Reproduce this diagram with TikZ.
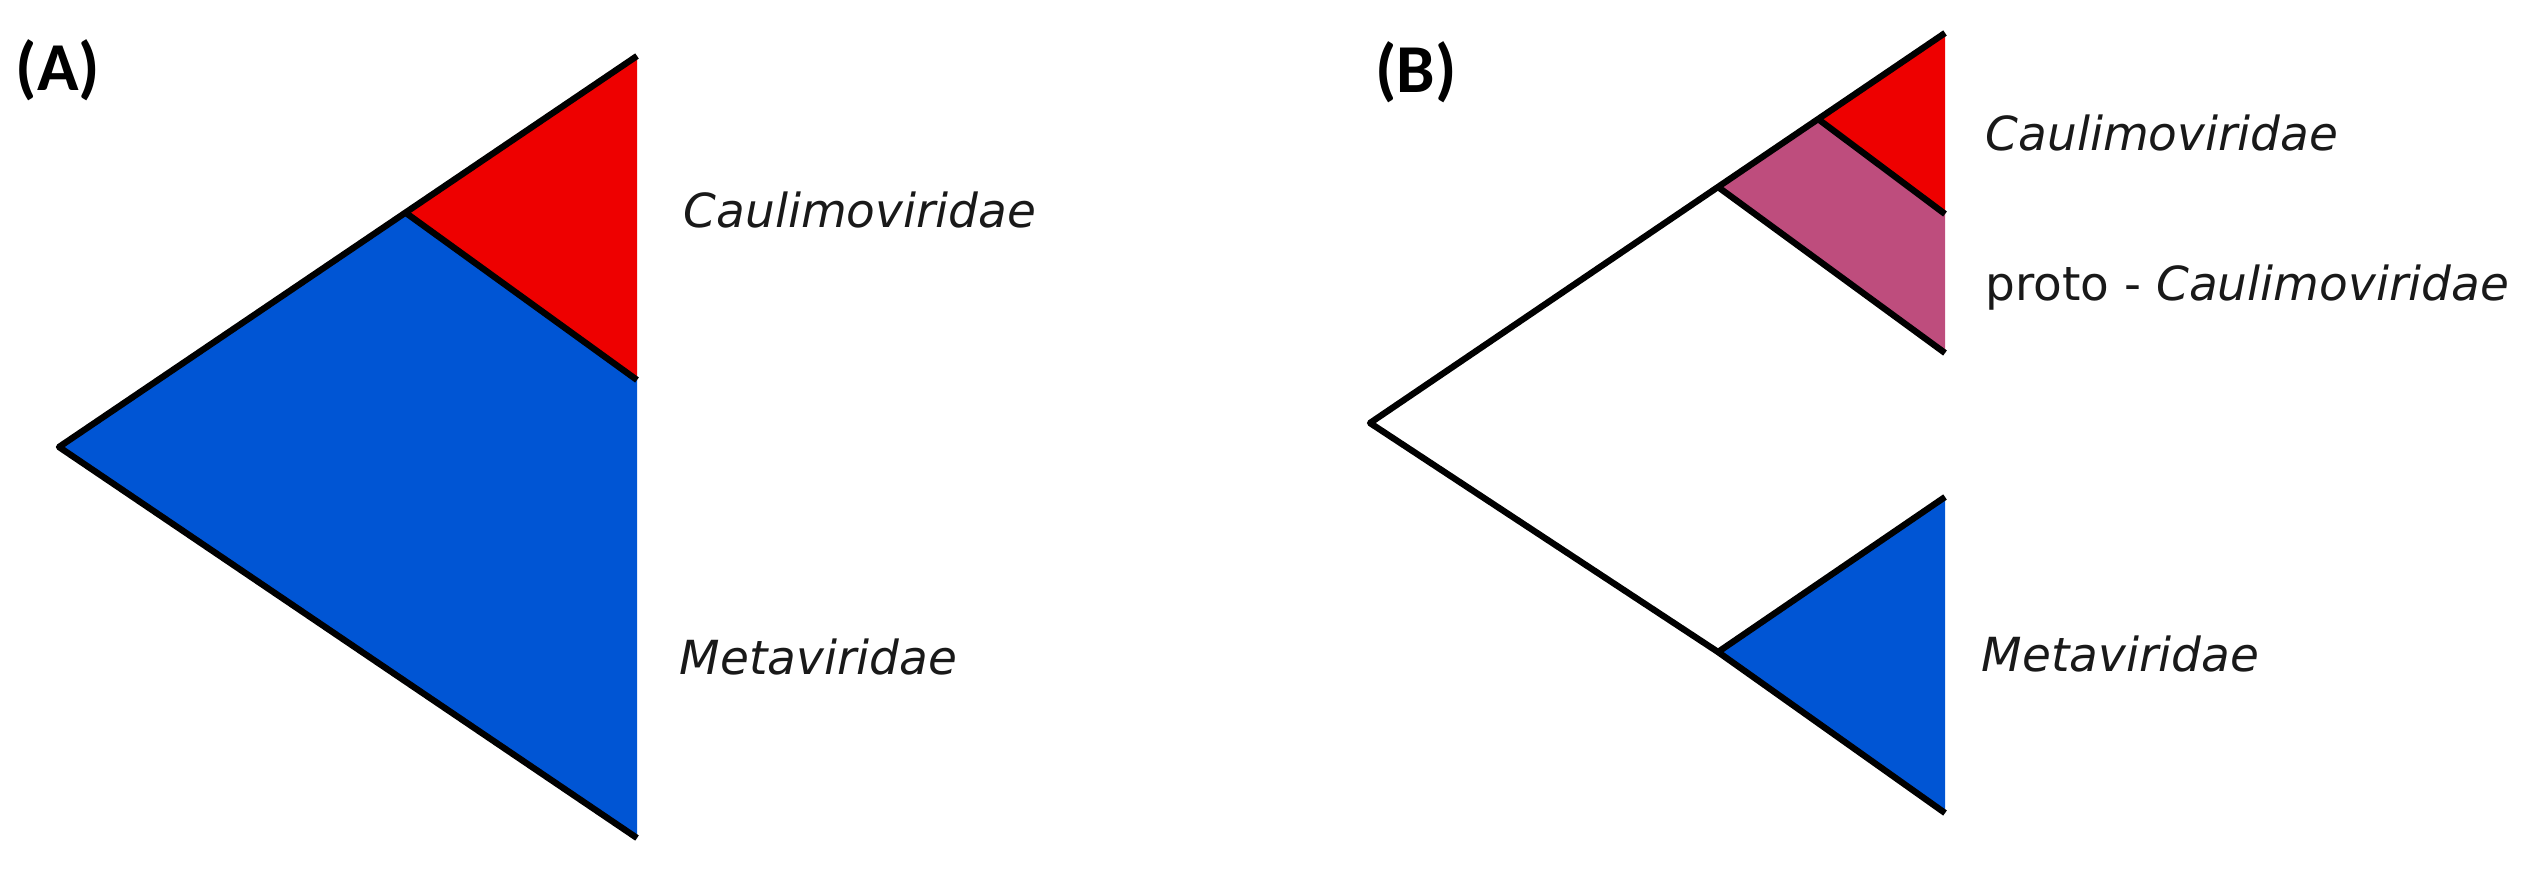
\documentclass[tikz,border=0pt]{standalone}
\usepackage{fontspec}
\setmainfont{DejaVu Sans}
\newfontfamily\labfont{Carlito}
\definecolor{cred}{RGB}{238,0,0}
\definecolor{cblue}{RGB}{0,85,212}
\definecolor{cpink}{RGB}{190,77,125}
\definecolor{ctext}{RGB}{25,25,25}
\begin{document}
\begin{tikzpicture}[x=0.01cm,y=-0.01cm,
  branch/.style={line width=1.8pt, draw=black, line join=round},
  taxon/.style={anchor=base west, inner sep=0pt, font=\fontsize{13.35pt}{15pt}\selectfont\itshape, text=ctext},
  panel/.style={inner sep=0pt, font=\fontsize{19.5pt}{22pt}\selectfont\labfont\bfseries}]
\useasboundingbox (0,0) rectangle (2534,873);

% ---------- Panel A ----------
\coordinate (Aapex) at (59,447);
\coordinate (Atop) at (637,56);
\coordinate (Abot) at (637,838);
\coordinate (Ajunc) at (406,213);
\coordinate (Ared) at (637,380);

\fill[cblue] (Aapex) -- (Ajunc) -- (Ared) -- (Abot) -- cycle;
\fill[cred] (Ajunc) -- (Atop) -- (Ared) -- cycle;
\draw[branch] (Atop) -- (Aapex) -- (Abot);
\draw[branch] (Ajunc) -- (Ared);

\node[panel] (labA) at (58,70) {(A)};
\node[taxon] (caulA) at (683,228) {Caulimoviridae};
\node[taxon] (metaA) at (679,674) {Metaviridae};

% ---------- Panel B ----------
\coordinate (Bapex) at (1370,423);
\coordinate (Btop) at (1945,33);
\coordinate (Bj1) at (1718,187);
\coordinate (Bj2) at (1818,119);
\coordinate (Bred) at (1945,214);
\coordinate (Bpink) at (1945,353);
\coordinate (Blow) at (1718,652);
\coordinate (Bbt) at (1945,497);
\coordinate (Bbb) at (1945,813);

\fill[cpink] (Bj1) -- (Bj2) -- (Bred) -- (Bpink) -- cycle;
\fill[cred] (Bj2) -- (Btop) -- (Bred) -- cycle;
\fill[cblue] (Blow) -- (Bbt) -- (Bbb) -- cycle;
\draw[branch] (Btop) -- (Bapex) -- (Blow);
\draw[branch] (Bj1) -- (Bpink);
\draw[branch] (Bj2) -- (Bred);
\draw[branch] (Bbt) -- (Blow) -- (Bbb);

\node[panel] (labB) at (1416,72) {(B)};
\node[taxon] (caulB) at (1985,151) {Caulimoviridae};
\node[taxon] (protoB) at (1985,300) {\upshape proto - \itshape Caulimoviridae};
\node[taxon] (metaB) at (1981,671) {Metaviridae};
\end{tikzpicture}
\end{document}
